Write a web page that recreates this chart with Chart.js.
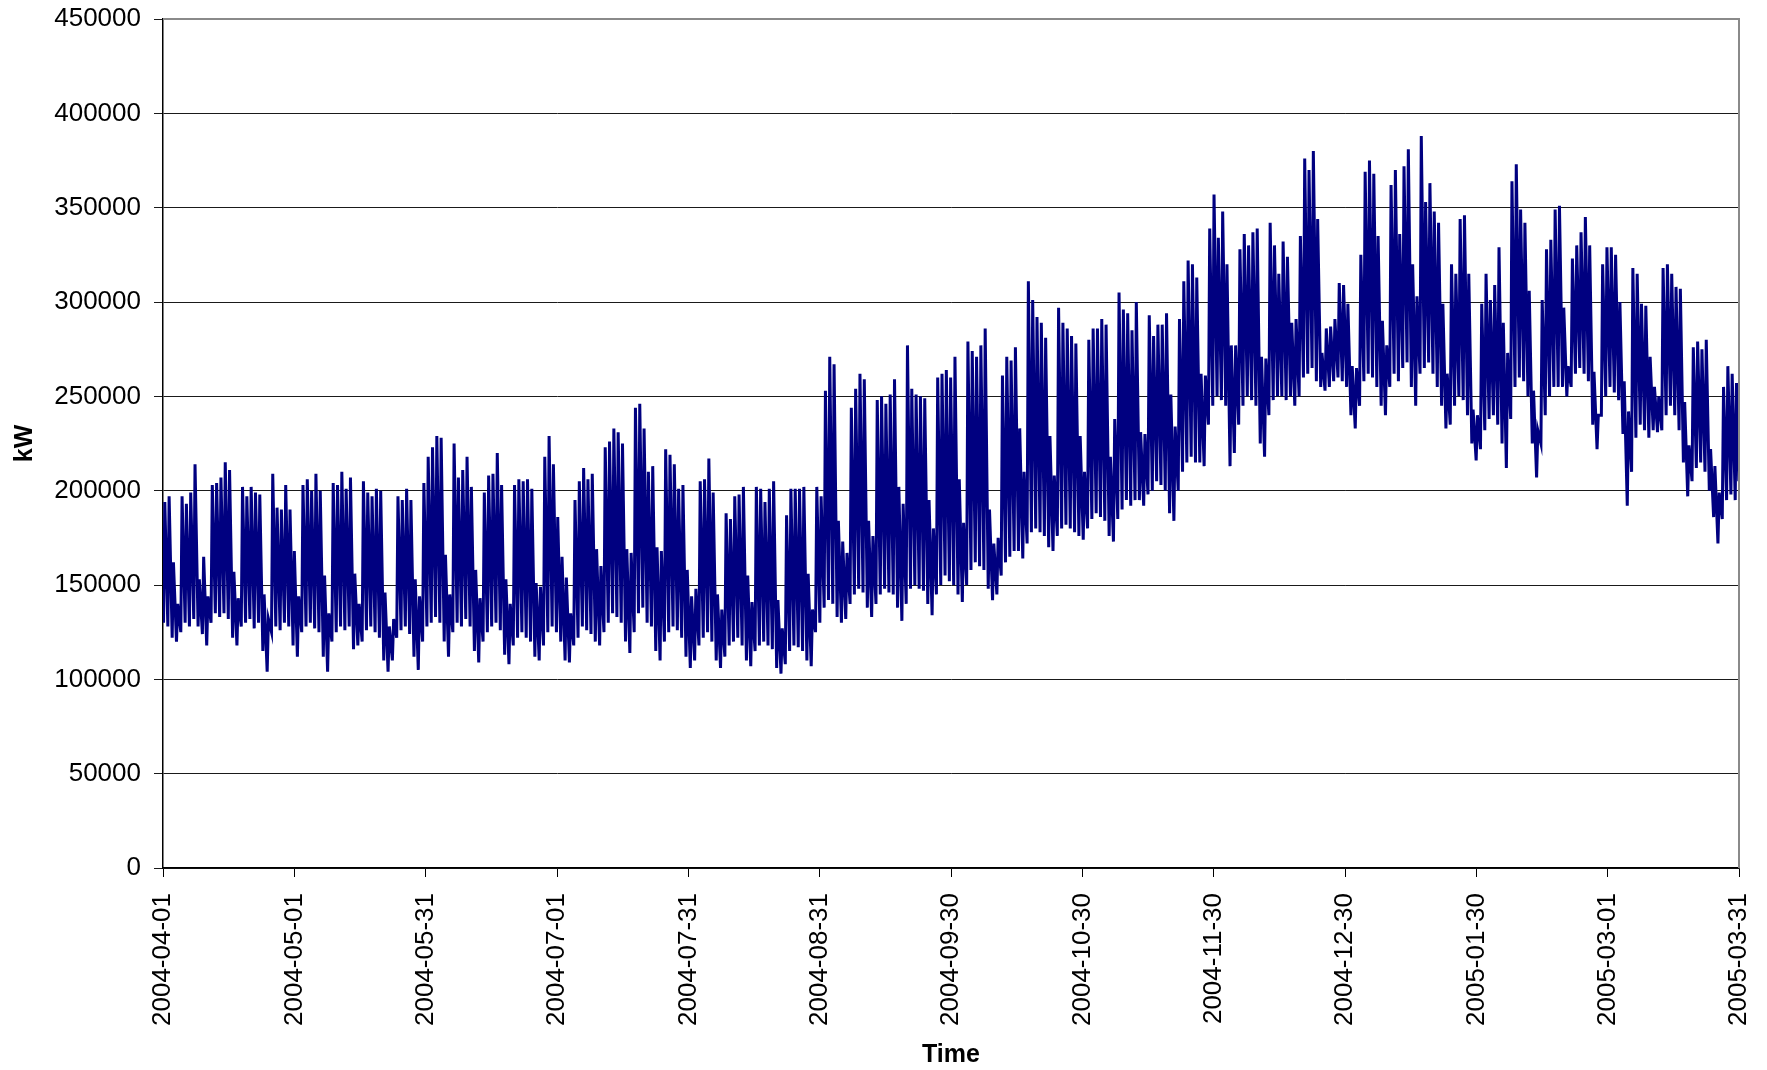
<!DOCTYPE html>
<html>
<head>
<meta charset="utf-8">
<script src="https://cdn.jsdelivr.net/npm/chart.js@4.4.0/dist/chart.umd.min.js"></script>
<style>
  html, body { margin: 0; padding: 0; background: #fff; }
</style>
</head>
<body>
<canvas id="myChart" width="1767" height="1070"></canvas>
<script>
// tick labels on the time axis, one every 730 hours
var xLabels = ["2004-04-01", "2004-05-01", "2004-05-31", "2004-07-01", "2004-07-31", "2004-08-31",
  "2004-09-30", "2004-10-30", "2004-11-30", "2004-12-30", "2005-01-30", "2005-03-01", "2005-03-31"];

// daily peak load (kW), one value per day from 2004-04-01 to 2005-03-31
var dailyPeak = [
  194000, 197000, 162000, 140000, 197000, 193000, 199000,
  214000, 153000, 165000, 144000, 203000, 204000, 207000,
  215000, 211000, 157000, 143000, 202000, 197000, 202000,
  199000, 198000, 145000, 132000, 209000, 191000, 190000,
  203000, 190000, 168000, 144000, 203000, 206000, 200000,
  209000, 200000, 155000, 135000, 204000, 203000, 210000,
  201000, 207000, 156000, 140000, 205000, 199000, 197000,
  201000, 200000, 146000, 128000, 132000, 197000, 195000,
  201000, 195000, 153000, 144000, 204000, 218000, 223000,
  229000, 228000, 166000, 145000, 225000, 207000, 211000,
  218000, 202000, 158000, 143000, 199000, 208000, 209000,
  220000, 203000, 153000, 140000, 203000, 206000, 205000,
  206000, 201000, 151000, 149000, 218000, 229000, 214000,
  186000, 165000, 154000, 135000, 195000, 205000, 212000,
  206000, 209000, 169000, 160000, 223000, 226000, 233000,
  231000, 225000, 169000, 167000, 244000, 246000, 233000,
  210000, 213000, 170000, 168000, 222000, 219000, 214000,
  201000, 203000, 158000, 144000, 148000, 205000, 206000,
  217000, 199000, 145000, 137000, 188000, 185000, 197000,
  198000, 202000, 155000, 141000, 202000, 201000, 194000,
  201000, 205000, 142000, 127000, 187000, 201000, 201000,
  201000, 202000, 156000, 137000, 202000, 197000, 253000,
  271000, 267000, 184000, 173000, 167000, 244000, 254000,
  262000, 259000, 184000, 176000, 248000, 250000, 246000,
  251000, 259000, 202000, 193000, 277000, 254000, 251000,
  250000, 249000, 195000, 180000, 260000, 262000, 264000,
  260000, 271000, 206000, 183000, 279000, 274000, 271000,
  277000, 286000, 190000, 172000, 175000, 261000, 271000,
  269000, 276000, 233000, 210000, 311000, 301000, 292000,
  289000, 281000, 229000, 208000, 297000, 289000, 286000,
  282000, 278000, 229000, 210000, 280000, 286000, 286000,
  291000, 288000, 218000, 238000, 305000, 296000, 294000,
  285000, 300000, 231000, 230000, 293000, 282000, 288000,
  288000, 294000, 251000, 234000, 291000, 311000, 322000,
  320000, 313000, 262000, 261000, 339000, 357000, 334000,
  348000, 320000, 277000, 277000, 328000, 336000, 330000,
  337000, 339000, 271000, 270000, 342000, 330000, 315000,
  332000, 324000, 289000, 291000, 335000, 376000, 370000,
  380000, 344000, 273000, 286000, 287000, 291000, 310000,
  309000, 299000, 266000, 265000, 325000, 369000, 375000,
  368000, 335000, 290000, 277000, 362000, 370000, 336000,
  372000, 381000, 320000, 303000, 388000, 353000, 363000,
  348000, 342000, 299000, 262000, 320000, 315000, 344000,
  346000, 315000, 243000, 240000, 299000, 315000, 301000,
  309000, 329000, 289000, 273000, 364000, 373000, 349000,
  342000, 306000, 253000, 232000, 301000, 328000, 333000,
  349000, 351000, 297000, 266000, 323000, 330000, 337000,
  345000, 330000, 263000, 240000, 320000, 329000, 329000,
  325000, 300000, 258000, 242000, 318000, 315000, 299000,
  298000, 271000, 255000, 250000, 318000, 320000, 315000,
  308000, 307000, 247000, 224000, 276000, 279000, 275000,
  280000, 222000, 213000, 199000, 255000, 266000, 262000,
  257000
];

// night-time minimum load (kW), same days
var dailyLow = [
  130000, 128000, 122000, 120000, 125000, 130000, 128000,
  132000, 128000, 124000, 118000, 130000, 135000, 133000,
  135000, 132000, 122000, 118000, 128000, 130000, 132000,
  127000, 130000, 115000, 104000, 125000, 128000, 126000,
  130000, 128000, 118000, 112000, 125000, 128000, 130000,
  127000, 125000, 112000, 104000, 120000, 125000, 128000,
  126000, 128000, 116000, 118000, 120000, 126000, 128000,
  125000, 122000, 110000, 104000, 110000, 122000, 126000,
  128000, 124000, 112000, 105000, 120000, 128000, 130000,
  133000, 130000, 120000, 112000, 125000, 130000, 128000,
  132000, 128000, 115000, 109000, 120000, 125000, 128000,
  130000, 126000, 113000, 108000, 118000, 122000, 125000,
  122000, 120000, 112000, 110000, 118000, 125000, 128000,
  125000, 120000, 110000, 109000, 118000, 122000, 128000,
  126000, 124000, 120000, 118000, 125000, 130000, 135000,
  133000, 130000, 120000, 114000, 125000, 135000, 138000,
  130000, 128000, 115000, 110000, 120000, 125000, 128000,
  126000, 122000, 112000, 106000, 110000, 118000, 122000,
  125000, 120000, 110000, 106000, 112000, 118000, 120000,
  122000, 118000, 110000, 107000, 115000, 118000, 120000,
  118000, 116000, 106000, 103000, 108000, 115000, 118000,
  117000, 115000, 110000, 107000, 125000, 130000, 138000,
  142000, 140000, 133000, 130000, 132000, 140000, 145000,
  148000, 146000, 138000, 133000, 140000, 145000, 148000,
  146000, 145000, 138000, 131000, 140000, 148000, 150000,
  148000, 147000, 140000, 134000, 145000, 150000, 155000,
  152000, 150000, 145000, 141000, 150000, 158000, 162000,
  160000, 158000, 148000, 142000, 145000, 155000, 162000,
  165000, 168000, 168000, 164000, 172000, 178000, 180000,
  178000, 176000, 170000, 168000, 176000, 180000, 182000,
  180000, 178000, 176000, 174000, 180000, 185000, 188000,
  186000, 184000, 176000, 173000, 185000, 190000, 195000,
  192000, 195000, 195000, 192000, 198000, 200000, 205000,
  203000, 200000, 188000, 184000, 200000, 210000, 215000,
  218000, 215000, 215000, 213000, 235000, 245000, 250000,
  248000, 245000, 213000, 220000, 235000, 245000, 250000,
  248000, 245000, 225000, 218000, 240000, 248000, 250000,
  250000, 248000, 250000, 245000, 250000, 260000, 262000,
  265000, 258000, 255000, 253000, 255000, 258000, 260000,
  258000, 255000, 240000, 233000, 245000, 258000, 262000,
  260000, 255000, 245000, 240000, 255000, 262000, 258000,
  265000, 268000, 255000, 245000, 262000, 265000, 268000,
  262000, 255000, 245000, 233000, 235000, 245000, 250000,
  248000, 240000, 225000, 216000, 222000, 232000, 238000,
  240000, 235000, 225000, 212000, 238000, 255000, 260000,
  258000, 250000, 225000, 207000, 225000, 240000, 250000,
  255000, 255000, 255000, 250000, 255000, 262000, 265000,
  262000, 258000, 235000, 222000, 240000, 250000, 255000,
  252000, 248000, 230000, 192000, 210000, 228000, 235000,
  232000, 228000, 232000, 231000, 232000, 240000, 245000,
  240000, 232000, 215000, 197000, 205000, 212000, 215000,
  210000, 200000, 186000, 172000, 185000, 195000, 198000,
  195000
];

var lastHourValue = 205000;

var lowHour = 3;
var peakHour = 10;
var hoursPerLabel = 730;

var points = [];
dailyPeak.forEach(function (peak, day) {
  points.push({ x: day * 24 + lowHour, y: dailyLow[day] });
  points.push({ x: day * 24 + peakHour, y: peak });
});
points.push({ x: 8759, y: lastHourValue });

var fontFamily = "'Liberation Sans', Arial, sans-serif";

// gray frame on top and right of the plot, like the original
var plotFrame = {
  id: "plotFrame",
  afterDatasetsDraw: function (chart) {
    var ctx = chart.ctx;
    var a = chart.chartArea;
    ctx.save();
    ctx.strokeStyle = "#8a8a8a";
    ctx.lineWidth = 2;
    ctx.beginPath();
    ctx.moveTo(a.left, a.top);
    ctx.lineTo(a.right, a.top);
    ctx.lineTo(a.right, a.bottom);
    ctx.stroke();
    ctx.restore();
  },
};

var ctx = document.getElementById("myChart").getContext("2d");
var loadChart = new Chart(ctx, {
  type: "line",
  data: {
    datasets: [
      {
        label: "kW",
        data: points,
        borderColor: "#000080",
        borderWidth: 3,
        pointRadius: 0,
        tension: 0,
        fill: false,
      },
    ],
  },
  options: {
    responsive: false,
    animation: false,
    devicePixelRatio: 1,
    layout: { padding: { top: 19, right: 28, left: 0, bottom: 0 } },
    plugins: {
      legend: { display: false },
      tooltip: { enabled: false },
    },
    scales: {
      x: {
        type: "linear",
        min: 0,
        max: 8760,
        afterBuildTicks: function (scale) {
          scale.ticks = xLabels.map(function (l, i) {
            return { value: i * hoursPerLabel };
          });
        },
        afterFit: function (scale) {
          scale.height = 202;
          scale.paddingLeft = 0;
          scale.paddingRight = 0;
        },
        ticks: {
          autoSkip: false,
          minRotation: 90,
          maxRotation: 90,
          padding: 16,
          color: "#000",
          font: { family: fontFamily, size: 26 },
          callback: function (value, index) {
            return xLabels[index];
          },
        },
        grid: { drawOnChartArea: false, tickLength: 9, color: "#000" },
        border: { color: "#000", width: 1.5 },
        title: {
          display: true,
          text: "Time",
          color: "#000",
          font: { family: fontFamily, size: 25, weight: "bold" },
          padding: { top: 4, bottom: 0 },
        },
      },
      y: {
        min: 0,
        max: 450000,
        afterFit: function (scale) {
          scale.width = 163;
          scale.paddingTop = 0;
          scale.paddingBottom = 0;
        },
        ticks: {
          stepSize: 50000,
          padding: 13,
          color: "#000",
          font: { family: fontFamily, size: 26 },
          callback: function (value) {
            return String(value);
          },
        },
        grid: { color: "#1a1a1a", lineWidth: 1, tickLength: 9 },
        border: { color: "#000", width: 1.5 },
        title: {
          display: true,
          text: "kW",
          color: "#000",
          font: { family: fontFamily, size: 25, weight: "bold" },
          padding: { top: 10, bottom: 0 },
        },
      },
    },
  },
  plugins: [plotFrame],
});
</script>
</body>
</html>
